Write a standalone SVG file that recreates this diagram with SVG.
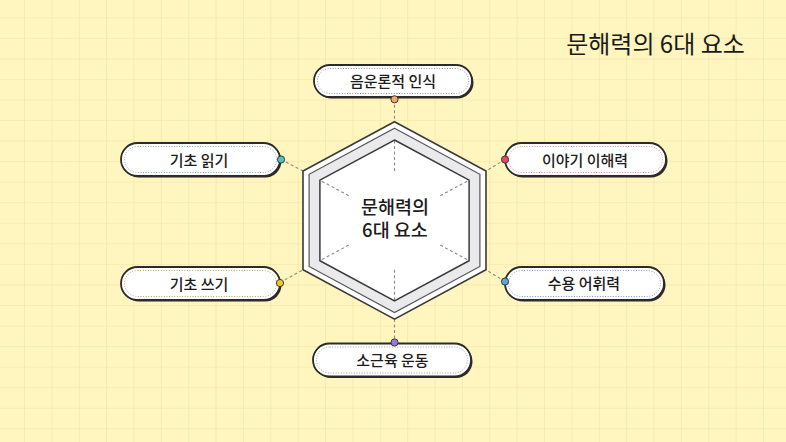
<svg xmlns="http://www.w3.org/2000/svg" width="786" height="442" viewBox="0 0 786 442">
  <defs>
    <pattern id="grid" patternUnits="userSpaceOnUse" x="24" y="17.3" width="27.37" height="20.55">
      <path d="M0,0 V20.55 M0,0 H27.37" fill="none" stroke="#F0E2A3" stroke-width="1.2"/>
    </pattern>
    <style>
      .pill { fill: #ffffff; stroke: #2b2b2b; stroke-width: 1.8; }
      .shadow { fill: #2b2b2b; }
      .dots { fill: none; stroke-width: 1; stroke-dasharray: 1 1.6; }
      .lbl { font-family: "Noto Sans CJK KR", "Noto Sans", sans-serif; font-size: 15px; font-weight: 500; fill: #1c1c1c; text-anchor: middle; dominant-baseline: central; }
      .conn { stroke: #8a8a8a; stroke-width: 1.1; stroke-dasharray: 3 2.5; fill: none; }
      .dot { stroke: #3a3a3a; stroke-width: 1; }
      .ctr { font-family: "Noto Sans CJK KR", "Noto Sans", sans-serif; font-size: 18.5px; font-weight: 500; fill: #1c1c1c; text-anchor: middle; }
    </style>
  </defs>

  <rect x="0" y="0" width="786" height="442" fill="#FFF5BF"/>
  <rect x="0" y="0" width="786" height="442" fill="url(#grid)"/>

  <text x="655.5" y="42" font-family="Noto Sans CJK KR, sans-serif" font-size="24" font-weight="400" fill="#1a1a1a" text-anchor="middle" dominant-baseline="central">문해력의 6대 요소</text>

  <g id="connectors">
    <line class="conn" x1="394.5" y1="99.3" x2="394.5" y2="121.7"/>
    <line class="conn" x1="281" y1="159.5" x2="303" y2="171"/>
    <line class="conn" x1="505" y1="159.5" x2="486" y2="171"/>
    <line class="conn" x1="505" y1="281.5" x2="486" y2="269.8"/>
    <line class="conn" x1="280" y1="282.5" x2="303" y2="269.8"/>
    <line class="conn" x1="394.5" y1="319.1" x2="394.5" y2="342.5"/>
  </g>

  <g id="hexagon">
    <polygon points="394.5,121.7 486,171 486,269.8 394.5,319.1 303,269.8 303,171" fill="#ffffff" stroke="#3a3a3a" stroke-width="1.6"/>
    <polygon points="394.5,128.3 479.9,174.3 479.9,266.5 394.5,312.5 309.1,266.5 309.1,174.3" fill="#EAEAEC" stroke="#555" stroke-width="1.2"/>
    <polygon points="394.5,140 469.1,180.1 469.1,260.7 394.5,300.8 319.9,260.7 319.9,180.1" fill="#ffffff" stroke="#3a3a3a" stroke-width="1.5"/>
    <g class="conn">
      <line x1="394.5" y1="171" x2="394.5" y2="141"/>
      <line x1="440.3" y1="195.7" x2="468.5" y2="180.5"/>
      <line x1="440.3" y1="245.1" x2="468.5" y2="260.3"/>
      <line x1="394.5" y1="269.8" x2="394.5" y2="300"/>
      <line x1="348.7" y1="245.1" x2="320.5" y2="260.3"/>
      <line x1="348.7" y1="195.7" x2="320.5" y2="180.5"/>
    </g>
    <text class="ctr" x="395" y="213.5"><tspan x="395">문해력의</tspan><tspan x="395" dy="23.5">6대 요소</tspan></text>
  </g>

  <g id="node-top">
    <rect class="shadow" x="315.5" y="66.5" width="158" height="32" rx="16"/>
    <rect class="pill" x="314" y="65" width="158" height="32" rx="16"/>
    <rect class="dots" x="317.5" y="68.5" width="151" height="25" rx="12.5" stroke="#9a9090"/>
    <text class="lbl" x="393" y="80.5">음운론적 인식</text>
    <circle class="dot" cx="394.5" cy="99.3" r="3.6" fill="#F4A866"/>
  </g>

  <g id="node-upper-left">
    <rect class="shadow" x="122.5" y="144.5" width="159" height="33" rx="16.5"/>
    <rect class="pill" x="121" y="143" width="159" height="33" rx="16.5"/>
    <rect class="dots" x="124.5" y="146.5" width="152" height="26" rx="13" stroke="#7FAFAE"/>
    <text class="lbl" x="199" y="159.5">기초 읽기</text>
    <circle class="dot" cx="281" cy="159.5" r="3.6" fill="#4FC4BF"/>
  </g>

  <g id="node-upper-right">
    <rect class="shadow" x="506.5" y="144.5" width="161" height="33" rx="16.5"/>
    <rect class="pill" x="505" y="143" width="161" height="33" rx="16.5"/>
    <rect class="dots" x="508.5" y="146.5" width="154" height="26" rx="13" stroke="#D88C9A"/>
    <text class="lbl" x="585" y="159">이야기 이해력</text>
    <circle class="dot" cx="505" cy="159.5" r="3.6" fill="#E8475E"/>
  </g>

  <g id="node-lower-left">
    <rect class="shadow" x="122.5" y="268.5" width="159" height="33" rx="16.5"/>
    <rect class="pill" x="121" y="267" width="159" height="33" rx="16.5"/>
    <rect class="dots" x="124.5" y="270.5" width="152" height="26" rx="13" stroke="#B3A86A"/>
    <text class="lbl" x="199" y="283">기초 쓰기</text>
    <circle class="dot" cx="280" cy="283" r="3.6" fill="#F5C623"/>
  </g>

  <g id="node-lower-right">
    <rect class="shadow" x="506.5" y="268.5" width="159" height="33" rx="16.5"/>
    <rect class="pill" x="505" y="267" width="159" height="33" rx="16.5"/>
    <rect class="dots" x="508.5" y="270.5" width="152" height="26" rx="13" stroke="#7E9EC4"/>
    <text class="lbl" x="584" y="282.5">수용 어휘력</text>
    <circle class="dot" cx="505" cy="281.5" r="3.6" fill="#5BA4E2"/>
  </g>

  <g id="node-bottom">
    <rect class="shadow" x="314.5" y="345" width="158" height="33" rx="16.5"/>
    <rect class="pill" x="313" y="343.5" width="158" height="33" rx="16.5"/>
    <rect class="dots" x="316.5" y="347" width="151" height="26" rx="13" stroke="#A49AB8"/>
    <text class="lbl" x="392.5" y="359">소근육 운동</text>
    <circle class="dot" cx="394.5" cy="342.5" r="3.6" fill="#9B78D9"/>
  </g>
</svg>
